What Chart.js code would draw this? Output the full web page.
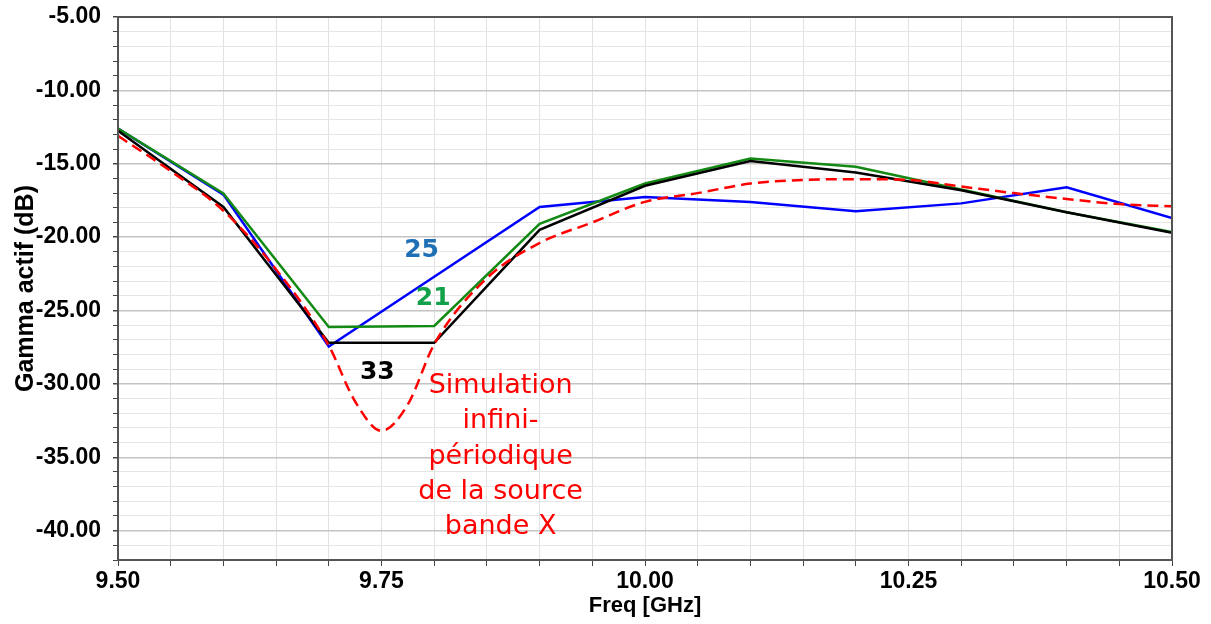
<!DOCTYPE html>
<html>
<head>
<meta charset="utf-8">
<script src="https://cdn.jsdelivr.net/npm/chart.js@4/dist/chart.umd.min.js"></script>
<style>
  html, body { margin: 0; padding: 0; background: #fff; }
  #wrap { width: 1211px; height: 624px; position: relative; }
</style>
</head>
<body>
<div id="wrap"><canvas id="gammaChart"></canvas></div>
<script>
// measured ports, 0.1 GHz steps
const freq = [9.5, 9.6, 9.7, 9.8, 9.9, 10.0, 10.1, 10.2, 10.3, 10.4, 10.5];
const gamma25 = [-12.6, -17.1, -27.45, -22.7, -17.95, -17.26, -17.6, -18.23, -17.7, -16.6, -18.7];
const gamma21 = [-12.6, -17.03, -26.13, -26.05, -19.1, -16.35, -14.64, -15.2, -16.75, -18.3, -19.65];
const gamma33 = [-12.75, -17.94, -27.2, -27.2, -19.5, -16.5, -14.82, -15.6, -16.8, -18.3, -19.7];

// infinite-periodic simulation (red dashed)
const simFreq = [9.5, 9.55, 9.6, 9.65, 9.7, 9.725, 9.75, 9.775, 9.8, 9.85, 9.9, 9.95,
  10.0, 10.05, 10.1, 10.15, 10.2, 10.25, 10.3, 10.35, 10.4, 10.45, 10.5];
const simGamma = [-13.1, -15.5, -18.2, -22.2, -27.4, -31.2, -33.2, -31.4, -27.3, -22.8, -20.4, -19.0,
  -17.6, -17.0, -16.35, -16.1, -16.05, -16.1, -16.55, -17.0, -17.4, -17.75, -17.9];

// text labels placed in data units
const labels = [
  { x: 9.788, y: -20.9, lines: ['25'], color: '#1f6fb5', font: 'bold 25px "DejaVu Sans"' },
  { x: 9.799, y: -24.2, lines: ['21'], color: '#12a04a', font: 'bold 25px "DejaVu Sans"' },
  { x: 9.746, y: -29.2, lines: ['33'], color: '#000000', font: 'bold 25px "DejaVu Sans"' },
  { x: 9.863, y: -30.15, lines: ['Simulation', 'infini-', 'périodique', 'de la source', 'bande X'],
    color: '#ff0000', font: '27px "DejaVu Sans"' }
];

const toPts = (xs, ys) => xs.map((x, i) => ({ x: x, y: ys[i] }));

const labelPlugin = {
  id: 'labelPlugin',
  afterDatasetsDraw(chart) {
    const ctx = chart.ctx;
    const xs = chart.scales.x, ys = chart.scales.y;
    ctx.save();
    ctx.textAlign = 'center';
    ctx.textBaseline = 'middle';
    labels.forEach(l => {
      ctx.font = l.font;
      ctx.fillStyle = l.color;
      const px = xs.getPixelForValue(l.x);
      const py = ys.getPixelForValue(l.y);
      l.lines.forEach((t, i) => ctx.fillText(t, px, py + i * 35.3));
    });
    // frame round plot area
    const a = chart.chartArea;
    ctx.strokeStyle = '#555';
    ctx.lineWidth = 2;
    ctx.strokeRect(a.left, a.top, a.right - a.left, a.bottom - a.top);
    ctx.restore();
  }
};

const isMult = (v, step) => Math.abs(v / step - Math.round(v / step)) < 1e-6;
const tickFont = { family: '"Liberation Sans", Arial', size: 23, weight: 'bold' };

new Chart(document.getElementById('gammaChart'), {
  type: 'line',
  data: {
    datasets: [
      {
        label: 'Simulation',
        data: toPts(simFreq, simGamma),
        borderColor: '#ff0000',
        borderWidth: 2.5,
        borderDash: [11, 6],
        cubicInterpolationMode: 'monotone',
        pointRadius: 0
      },
      {
        label: '33',
        data: toPts(freq, gamma33),
        borderColor: '#000000',
        borderWidth: 2.5,
        pointRadius: 0
      },
      {
        label: '21',
        data: toPts(freq, gamma21),
        borderColor: '#138a13',
        borderWidth: 2.5,
        pointRadius: 0
      },
      {
        label: '25',
        data: toPts(freq, gamma25),
        borderColor: '#0000ff',
        borderWidth: 2.5,
        pointRadius: 0
      }
    ]
  },
  options: {
    responsive: true,
    maintainAspectRatio: false,
    animation: false,
    layout: { padding: { top: 17, right: 39, left: 0, bottom: 0 } },
    plugins: { legend: { display: false }, tooltip: { enabled: false } },
    scales: {
      x: {
        type: 'linear',
        min: 9.5,
        max: 10.5,
        afterFit: s => { s.height = 64; s.paddingLeft = 0; s.paddingRight = 0; },
        ticks: {
          stepSize: 0.05,
          autoSkip: false,
          maxRotation: 0,
          padding: 2,
          color: '#000',
          font: tickFont,
          callback: v => isMult(v, 0.25) ? v.toFixed(2) : ''
        },
        grid: { color: '#e2e2e2', tickColor: '#444', tickLength: 6 },
        border: { color: '#555', width: 2 },
        title: {
          display: true,
          text: 'Freq [GHz]',
          color: '#000',
          font: { family: '"Liberation Sans", Arial', size: 22, weight: 'bold' },
          padding: { top: 0, bottom: 5 }
        }
      },
      y: {
        min: -42,
        max: -5,
        afterFit: s => { s.width = 118; s.paddingTop = 0; s.paddingBottom = 0; },
        ticks: {
          stepSize: 1,
          autoSkip: false,
          padding: 12,
          color: '#000',
          font: tickFont,
          callback: v => isMult(v, 5) ? v.toFixed(2) : ''
        },
        grid: {
          color: c => (c.tick && isMult(c.tick.value, 5)) ? '#c4c4c4' : '#e6e6e6',
          lineWidth: c => (c.tick && isMult(c.tick.value, 5)) ? 1.5 : 1,
          tickColor: '#444',
          tickLength: 5
        },
        border: { color: '#555', width: 2 },
        title: {
          display: true,
          text: 'Gamma actif (dB)',
          color: '#000',
          font: { family: '"Liberation Sans", Arial', size: 25, weight: 'bold' },
          padding: { top: 11, bottom: 0 }
        }
      }
    }
  },
  plugins: [labelPlugin]
});
</script>
</body>
</html>
